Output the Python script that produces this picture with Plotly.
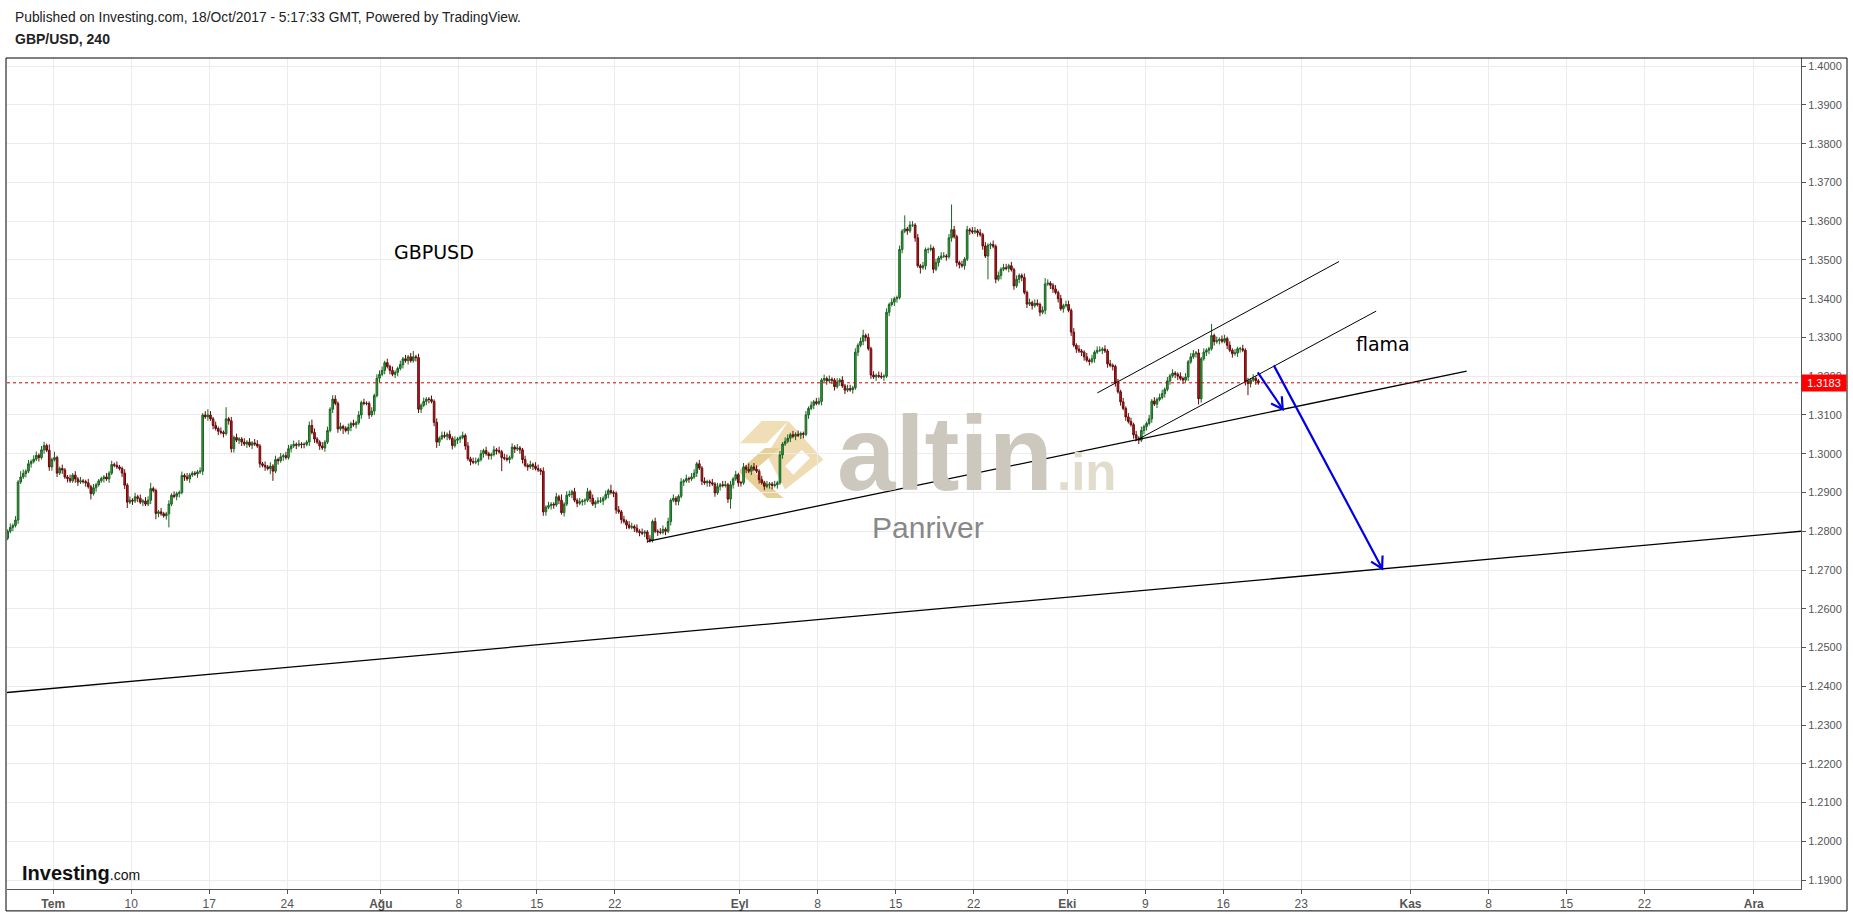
import numpy as np
import pandas as pd
import plotly.graph_objects as go

# ---------------- data ----------------
# trading days (Mon-Fri) with 6 four-hour bars each (last day: 2 bars)
days = pd.bdate_range("2017-06-27", "2017-10-18")
first_open = 12770  # pips (1.2770)

closes = [
    [12760, 12772, 12790, 12805, 12812, 12782],  # Jun 27
    [12800, 12810, 12815, 12829, 12927, 12940],  # Jun 28
    [12949, 12955, 12974, 12980, 12986, 12996],  # Jun 29
    [12990, 13010, 13021, 13009, 12966, 12985],  # Jun 30
    [12990, 12950, 12962, 12958, 12940, 12936],  # Jul 3
    [12930, 12945, 12935, 12927, 12930, 12928],
    [12925, 12915, 12897, 12912, 12920, 12930],
    [12936, 12940, 12935, 12950, 12972, 12970],
    [12966, 12962, 12950, 12919, 12875, 12880],
    [12878, 12889, 12885, 12875, 12878, 12870],  # Jul 10
    [12880, 12910, 12905, 12846, 12850, 12845],
    [12840, 12845, 12870, 12893, 12890, 12897],
    [12900, 12944, 12940, 12935, 12945, 12950],
    [12948, 12953, 12955, 13100, 13095, 13100],
    [13090, 13073, 13065, 13058, 13055, 13052],  # Jul 17
    [13090, 13085, 13013, 13042, 13035, 13038],
    [13030, 13025, 13030, 13022, 13028, 13025],
    [13020, 12974, 12970, 12966, 12962, 12968],
    [12955, 12985, 12982, 12992, 12995, 12990],
    [13013, 13020, 13024, 13022, 13025, 13024],  # Jul 24
    [13024, 13030, 13073, 13055, 13038, 13030],
    [13020, 13015, 13030, 13060, 13115, 13141],
    [13130, 13064, 13070, 13066, 13060, 13068],
    [13078, 13075, 13080, 13100, 13132, 13130],
    [13130, 13100, 13110, 13150, 13195, 13205],  # Jul 31
    [13215, 13235, 13225, 13215, 13205, 13210],
    [13220, 13230, 13245, 13240, 13250, 13240],
    [13250, 13248, 13115, 13125, 13135, 13141],
    [13140, 13135, 13081, 13030, 13040, 13047],
    [13045, 13050, 13040, 13021, 13035, 13038],  # Aug 7
    [13042, 13047, 13020, 12987, 12980, 12978],
    [12980, 12985, 13000, 13008, 13000, 12995],
    [12998, 13010, 13008, 13005, 12990, 12988],
    [12985, 12990, 13017, 13012, 13015, 13010],
    [12985, 12970, 12966, 12972, 12968, 12962],  # Aug 14
    [12958, 12955, 12850, 12862, 12866, 12870],
    [12868, 12889, 12880, 12848, 12870, 12893],
    [12895, 12902, 12880, 12872, 12876, 12878],
    [12880, 12902, 12885, 12870, 12875, 12878],
    [12878, 12885, 12895, 12905, 12900, 12898],  # Aug 21
    [12855, 12850, 12830, 12825, 12816, 12810],
    [12812, 12808, 12800, 12797, 12795, 12798],
    [12780, 12776, 12825, 12800, 12798, 12797],
    [12805, 12800, 12825, 12880, 12885, 12877],
    [12890, 12927, 12930, 12936, 12935, 12940],  # Aug 28
    [12950, 12974, 12963, 12929, 12925, 12928],
    [12925, 12922, 12899, 12915, 12920, 12918],
    [12920, 12883, 12920, 12935, 12946, 12925],
    [12925, 12966, 12960, 12955, 12966, 12960],
    [12955, 12933, 12925, 12916, 12920, 12922],  # Sep 4
    [12918, 12920, 12925, 12997, 13025, 13032],
    [13040, 13049, 13045, 13050, 13048, 13052],
    [13050, 13100, 13117, 13125, 13134, 13130],
    [13135, 13190, 13194, 13188, 13192, 13190],
    [13173, 13185, 13190, 13175, 13164, 13168],  # Sep 11
    [13165, 13170, 13262, 13280, 13290, 13305],
    [13300, 13271, 13203, 13198, 13202, 13200],
    [13198, 13200, 13365, 13385, 13391, 13400],
    [13403, 13527, 13574, 13580, 13575, 13590],
    [13590, 13557, 13485, 13480, 13485, 13527],  # Sep 18
    [13527, 13530, 13476, 13493, 13505, 13510],
    [13510, 13508, 13557, 13578, 13560, 13493],
    [13488, 13485, 13502, 13578, 13575, 13572],
    [13575, 13570, 13565, 13536, 13510, 13538],
    [13540, 13535, 13450, 13460, 13476, 13480],  # Sep 25
    [13478, 13485, 13475, 13433, 13450, 13460],
    [13455, 13416, 13386, 13390, 13382, 13388],
    [13385, 13365, 13370, 13438, 13440, 13435],
    [13425, 13416, 13400, 13374, 13382, 13385],
    [13370, 13314, 13280, 13270, 13265, 13262],  # Oct 2
    [13250, 13241, 13238, 13245, 13262, 13267],
    [13267, 13270, 13265, 13232, 13228, 13225],
    [13183, 13160, 13134, 13117, 13095, 13083],
    [13075, 13049, 13040, 13035, 13060, 13070],
    [13078, 13090, 13136, 13128, 13140, 13145],  # Oct 9
    [13155, 13166, 13188, 13201, 13208, 13205],
    [13200, 13194, 13190, 13198, 13237, 13250],
    [13258, 13260, 13142, 13245, 13262, 13267],
    [13271, 13305, 13289, 13292, 13295, 13290],
    [13297, 13280, 13267, 13258, 13260, 13271],  # Oct 16
    [13271, 13267, 13186, 13181, 13190, 13195],
    [13188, 13183],                              # Oct 18
]

# wick lengths above / below the body, hex digit per bar, in units of 5 pips
wick_up = [
    "212129", "121213", "212122", "122131", "311211", "212121", "121211", "112121",
    "211212", "121212", "231112", "112121", "121211", "112123", "212121", "612121",
    "121212", "211212", "121212", "212121", "112321", "121212", "212112", "121212",
    "112122", "212121", "121212", "312121", "121212", "212121", "121212", "212121",
    "121212", "212121", "121212", "212121", "121312", "212121", "121212", "212131",
    "121212", "212121", "121212", "212121", "121212", "212121", "121212", "212121",
    "121312", "212121", "121212", "212121", "121212", "212121", "121212", "212123",
    "121212", "212121", "121712", "212121", "121212", "212d21", "121212", "212121",
    "121212", "212121", "121212", "212321", "121212", "212121", "121212", "212121",
    "121212", "212121", "121212", "212121", "121212", "212121", "161212", "212121",
    "121212", "11",
]
wick_dn = [
    "121212", "112121", "121211", "212122", "121212", "112211", "213121", "121211",
    "112231", "212121", "121321", "127112", "212121", "121212", "121212", "122212",
    "212121", "121213", "512121", "121212", "212121", "212112", "121312", "212121",
    "121212", "121212", "212121", "122212", "212321", "121212", "212121", "121212",
    "212171", "121212", "212121", "122212", "212121", "121212", "212121", "121212",
    "212121", "121212", "211121", "121212", "212121", "121212", "212121", "125212",
    "212121", "121212", "212121", "121212", "212121", "121212", "212121", "121212",
    "212121", "121212", "212121", "121312", "212121", "121212", "212121", "12121c",
    "212121", "121212", "212121", "121212", "212121", "121212", "212121", "121212",
    "212121", "121212", "212121", "121212", "212121", "123212", "212121", "121212",
    "212621", "21",
]

last_price = 1.3183

# axis tick dates and labels (Turkish month names)
tick_dates = ["2017-07-03", "2017-07-10", "2017-07-17", "2017-07-24", "2017-08-01",
              "2017-08-08", "2017-08-15", "2017-08-22", "2017-09-01", "2017-09-08",
              "2017-09-15", "2017-09-22", "2017-10-02", "2017-10-09", "2017-10-16",
              "2017-10-23", "2017-11-01", "2017-11-08", "2017-11-15", "2017-11-22",
              "2017-12-01"]
tick_labels = ["<b>Tem</b>", "10", "17", "24", "<b>Ağu</b>", "8", "15", "22", "<b>Eyl</b>",
               "8", "15", "22", "<b>Eki</b>", "9", "16", "23", "<b>Kas</b>", "8", "15",
               "22", "<b>Ara</b>"]

# drawn trend lines: (trading-day offset from 3 Jul, price)
long_line_d = [-2.96, 112.03]
long_line_p = [1.2384, 1.2800]
support_d = [38.1, 90.6]
support_p = [1.2774, 1.3213]
chan_up_d = [66.93, 82.42]
chan_up_p = [1.3157, 1.3496]
chan_lo_d = [69.35, 84.80]
chan_lo_p = [1.3033, 1.3368]
arrow_small_d = [77.21, 78.81]
arrow_small_p = [1.3210, 1.3115]
arrow_big_d = [78.24, 85.18]
arrow_big_p = [1.3228, 1.2704]

# ---------------- build bars ----------------
assert len(closes) == len(days) == len(wick_up) == len(wick_dn)
ref = np.datetime64("2017-07-03")
xs, o_, h_, l_, c_ = [], [], [], [], []
prev = first_open / 1e4
for di, day in enumerate(days):
    dd = np.datetime64(day.date())
    d = int(np.busday_count(ref, dd)) if dd >= ref else -int(np.busday_count(dd, ref))
    for k, cp in enumerate(closes[di]):
        c = cp / 1e4
        up = int(wick_up[di][k], 16) * 5 / 1e4
        dn = int(wick_dn[di][k], 16) * 5 / 1e4
        xs.append(d + (k + 0.5) / 6)
        o_.append(prev)
        c_.append(c)
        h_.append(max(prev, c) + up)
        l_.append(min(prev, c) - dn)
        prev = c

tick_pos = [int(np.busday_count(ref, np.datetime64(t))) for t in tick_dates]

# ---------------- geometry ----------------
W, H = 1853, 918
L_M, R_M, T_M, B_M = 7, 52, 58, 25
PW, PH = W - L_M - R_M, H - T_M - B_M
XR = [-2.96, 112.03]
YR = [1.1877, 1.4021]


def px(x):
    return (x - L_M) / PW


def py(y):
    return (H - B_M - y) / PH


fig = go.Figure()
fig.add_trace(go.Candlestick(
    x=xs, open=o_, high=h_, low=l_, close=c_,
    increasing=dict(line=dict(color="#1b6322", width=1), fillcolor="#2ea33b"),
    decreasing=dict(line=dict(color="#640b0b", width=1), fillcolor="#c8161d"),
    whiskerwidth=0, hoverinfo="skip", showlegend=False,
))


def add_line(xd, yp, color="black", width=1.0):
    fig.add_trace(go.Scatter(x=xd, y=yp, mode="lines", line=dict(color=color, width=width),
                             hoverinfo="skip", showlegend=False, cliponaxis=True))


add_line(long_line_d, long_line_p, width=1.3)
add_line(support_d, support_p, width=1.3)
add_line(chan_up_d, chan_up_p, width=1.0)
add_line(chan_lo_d, chan_lo_p, width=1.0)

sx = PW / (XR[1] - XR[0])
sy = PH / (YR[1] - YR[0])


def add_arrow(xd, yp, color="#0000e6", width=2.2, hl=13, ang=30):
    add_line(xd, yp, color=color, width=width)
    dx = (xd[1] - xd[0]) * sx
    dy = (yp[1] - yp[0]) * sy
    n = np.hypot(dx, dy)
    ux, uy = -dx / n, -dy / n
    pts_x, pts_y = [], []
    for a in (np.radians(ang), None, np.radians(-ang)):
        if a is None:
            pts_x.append(xd[1]); pts_y.append(yp[1]); continue
        wx = ux * np.cos(a) - uy * np.sin(a)
        wy = ux * np.sin(a) + uy * np.cos(a)
        pts_x.append(xd[1] + wx * hl / sx)
        pts_y.append(yp[1] + wy * hl / sy)
    add_line(pts_x, pts_y, color=color, width=width)


add_arrow(arrow_small_d, arrow_small_p)
add_arrow(arrow_big_d, arrow_big_p)

# ---------------- decorations ----------------
shapes = []
# outer frame
shapes.append(dict(type="rect", xref="paper", yref="paper", x0=px(6), x1=px(1847),
                   y0=py(915), y1=py(58), line=dict(color="black", width=1),
                   fillcolor="rgba(0,0,0,0)", layer="above"))
# last price dotted line
shapes.append(dict(type="line", xref="paper", yref="y", x0=0, x1=1, y0=last_price, y1=last_price,
                   line=dict(color="#d00000", width=1, dash="dot"), layer="above"))


def poly(points, color):
    path = "M " + " L ".join(f"{px(x):.5f},{py(y):.5f}" for x, y in points) + " Z"
    shapes.append(dict(type="path", xref="paper", yref="paper", path=path,
                       fillcolor=color, line=dict(width=0), layer="below"))


# watermark logo (light gold chevrons)
poly([(740, 445), (761.7, 422.7), (788.3, 422.7), (766.7, 445)], "#f0dfb6")
poly([(788.3, 422.7), (823.3, 461.7), (785, 491.7), (766.7, 456.7)], "#efdcb2")
poly([(765, 450), (780, 450), (753.3, 473.3), (783.3, 500), (766.7, 500), (738.3, 473.3)], "#e7cf98")
poly([(785, 468.3), (801.7, 451.7), (810, 460), (793.3, 476.7)], "#ffffff")

ann = []
sans = "Liberation Sans, Arial, sans-serif"
ann.append(dict(xref="paper", yref="paper", x=px(945.5), y=py(455), text="<b>altin</b>",
                showarrow=False, xanchor="center", yanchor="middle",
                font=dict(family=sans, size=105, color="rgb(205,200,189)")))
ann.append(dict(xref="paper", yref="paper", x=px(1087), y=py(474), text="<b>.in</b>",
                showarrow=False, xanchor="center", yanchor="middle",
                font=dict(family=sans, size=51, color="rgb(226,220,204)")))
ann.append(dict(xref="paper", yref="paper", x=px(927.5), y=py(530), text="Panriver",
                showarrow=False, xanchor="center", yanchor="middle",
                font=dict(family=sans, size=30, color="#888888")))
ann.append(dict(xref="paper", yref="paper", x=px(434), y=py(253), text="GBPUSD",
                showarrow=False, xanchor="center", yanchor="middle",
                font=dict(family="DejaVu Sans, Verdana, sans-serif", size=19, color="black")))
ann.append(dict(xref="paper", yref="paper", x=px(1383), y=py(345), text="flama",
                showarrow=False, xanchor="center", yanchor="middle",
                font=dict(family="DejaVu Sans, Verdana, sans-serif", size=19, color="black")))
# header
ann.append(dict(xref="paper", yref="paper", x=px(13), y=py(17), xanchor="left", yanchor="middle",
                text="Published on Investing.com, 18/Oct/2017 - 5:17:33 GMT, Powered by TradingView.",
                showarrow=False, font=dict(family=sans, size=13.8, color="#222")))
ann.append(dict(xref="paper", yref="paper", x=px(13), y=py(39), xanchor="left", yanchor="middle",
                text="<b>GBP/USD, 240</b>", showarrow=False,
                font=dict(family=sans, size=14, color="#222")))
# Investing.com logo
ann.append(dict(xref="paper", yref="paper", x=px(20), y=py(877), xanchor="left", yanchor="middle",
                text="<b>Investing</b><span style='font-size:14px'>.com</span>", showarrow=False,
                font=dict(family=sans, size=20, color="#111")))
# last price box
ann.append(dict(xref="paper", yref="y", x=1, y=last_price, xanchor="left", yanchor="middle",
                text=f"{last_price:.4f}", showarrow=False, bgcolor="#ff0000", width=42,
                height=14, borderpad=1, align="center",
                font=dict(family=sans, size=11, color="white")))

fig.update_layout(
    width=W, height=H,
    margin=dict(l=L_M, r=R_M, t=T_M, b=B_M),
    paper_bgcolor="white", plot_bgcolor="white",
    showlegend=False, boxgap=0.1,
    shapes=shapes, annotations=ann,
    xaxis=dict(range=XR, tickmode="array", tickvals=tick_pos, ticktext=tick_labels,
               showgrid=True, gridcolor="#ececec", gridwidth=1, zeroline=False,
               showline=True, linecolor="#555", linewidth=1,
               ticks="outside", ticklen=4, tickcolor="#555",
               tickfont=dict(family="Liberation Sans Narrow, Arial Narrow, Liberation Sans, sans-serif",
                             size=12, color="#555"),
               rangeslider=dict(visible=False), fixedrange=True),
    yaxis=dict(range=YR, side="right", tick0=1.19, dtick=0.01, tickformat=".4f",
               showgrid=True, gridcolor="#ececec", gridwidth=1, zeroline=False,
               showline=True, linecolor="#555", linewidth=1,
               ticks="outside", ticklen=4, tickcolor="#555",
               tickfont=dict(family=sans, size=11, color="#555"), fixedrange=True),
)

fig.write_html("out.html", config={"displayModeBar": False},
               post_script="document.body.style.margin='0';document.body.style.overflow='hidden';")
